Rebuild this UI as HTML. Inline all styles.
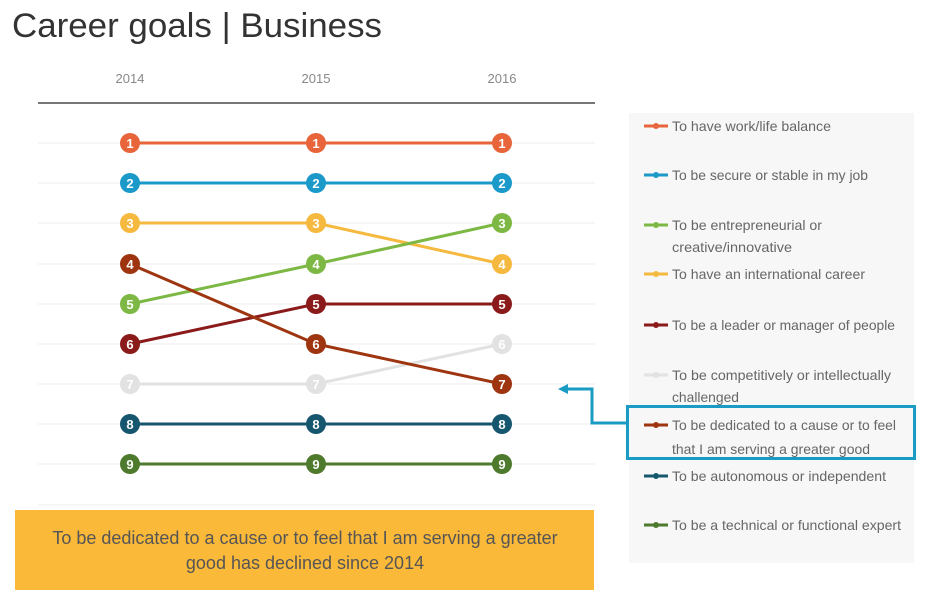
<!DOCTYPE html>
<html><head><meta charset="utf-8"><style>
body{margin:0;background:#fff;width:930px;height:602px;overflow:hidden;font-family:"Liberation Sans",sans-serif}
</style></head><body>
<svg width="930" height="602" xmlns="http://www.w3.org/2000/svg" font-family="Liberation Sans, sans-serif">
<text x="12" y="37" font-size="34" fill="#333" textLength="370" lengthAdjust="spacingAndGlyphs">Career goals | Business</text>
<g font-size="13" fill="#888" text-anchor="middle">
<text x="130" y="83">2014</text><text x="316" y="83">2015</text><text x="502" y="83">2016</text>
</g>
<line x1="38" y1="103" x2="595" y2="103" stroke="#777" stroke-width="2"/>
<g stroke="#ececec" stroke-width="1">
<line x1="38" y1="143" x2="595" y2="143"/><line x1="38" y1="183" x2="595" y2="183"/>
<line x1="38" y1="223" x2="595" y2="223"/><line x1="38" y1="264" x2="595" y2="264"/>
<line x1="38" y1="304" x2="595" y2="304"/><line x1="38" y1="344" x2="595" y2="344"/>
<line x1="38" y1="384" x2="595" y2="384"/><line x1="38" y1="424" x2="595" y2="424"/>
<line x1="38" y1="464" x2="595" y2="464"/><line x1="38" y1="505" x2="595" y2="505"/>
</g>
<g stroke-width="3" fill="none">
<polyline points="130,143 316,143 502,143" stroke="#e8643a"/>
<polyline points="130,183 316,183 502,183" stroke="#1b9ac9"/>
<polyline points="130,384 316,384 502,344" stroke="#e2e2e2"/>
<polyline points="130,223 316,223 502,264" stroke="#f6b93f"/>
<polyline points="130,304 316,264 502,223" stroke="#7cb843"/>
<polyline points="130,344 316,304 502,304" stroke="#8b1a1a"/>
<polyline points="130,264 316,344 502,384" stroke="#9e3510"/>
<polyline points="130,424 316,424 502,424" stroke="#16566e"/>
<polyline points="130,464 316,464 502,464" stroke="#4e7a2e"/>
</g>
<g font-size="13" font-weight="bold" text-anchor="middle" fill="#fff">
<circle cx="130" cy="143" r="10" fill="#e8643a"/><text x="130" y="148">1</text>
<circle cx="316" cy="143" r="10" fill="#e8643a"/><text x="316" y="148">1</text>
<circle cx="502" cy="143" r="10" fill="#e8643a"/><text x="502" y="148">1</text>
<circle cx="130" cy="183" r="10" fill="#1b9ac9"/><text x="130" y="188">2</text>
<circle cx="316" cy="183" r="10" fill="#1b9ac9"/><text x="316" y="188">2</text>
<circle cx="502" cy="183" r="10" fill="#1b9ac9"/><text x="502" y="188">2</text>
<circle cx="130" cy="223" r="10" fill="#f6b93f"/><text x="130" y="228">3</text>
<circle cx="316" cy="223" r="10" fill="#f6b93f"/><text x="316" y="228">3</text>
<circle cx="502" cy="223" r="10" fill="#7cb843"/><text x="502" y="228">3</text>
<circle cx="130" cy="264" r="10" fill="#9e3510"/><text x="130" y="269">4</text>
<circle cx="316" cy="264" r="10" fill="#7cb843"/><text x="316" y="269">4</text>
<circle cx="502" cy="264" r="10" fill="#f6b93f"/><text x="502" y="269">4</text>
<circle cx="130" cy="304" r="10" fill="#7cb843"/><text x="130" y="309">5</text>
<circle cx="316" cy="304" r="10" fill="#8b1a1a"/><text x="316" y="309">5</text>
<circle cx="502" cy="304" r="10" fill="#8b1a1a"/><text x="502" y="309">5</text>
<circle cx="130" cy="344" r="10" fill="#8b1a1a"/><text x="130" y="349">6</text>
<circle cx="316" cy="344" r="10" fill="#9e3510"/><text x="316" y="349">6</text>
<circle cx="502" cy="344" r="10" fill="#e2e2e2"/><text x="502" y="349">6</text>
<circle cx="130" cy="384" r="10" fill="#e2e2e2"/><text x="130" y="389">7</text>
<circle cx="316" cy="384" r="10" fill="#e2e2e2"/><text x="316" y="389">7</text>
<circle cx="502" cy="384" r="10" fill="#9e3510"/><text x="502" y="389">7</text>
<circle cx="130" cy="424" r="10" fill="#16566e"/><text x="130" y="429">8</text>
<circle cx="316" cy="424" r="10" fill="#16566e"/><text x="316" y="429">8</text>
<circle cx="502" cy="424" r="10" fill="#16566e"/><text x="502" y="429">8</text>
<circle cx="130" cy="464" r="10" fill="#4e7a2e"/><text x="130" y="469">9</text>
<circle cx="316" cy="464" r="10" fill="#4e7a2e"/><text x="316" y="469">9</text>
<circle cx="502" cy="464" r="10" fill="#4e7a2e"/><text x="502" y="469">9</text>
</g>
<rect x="15" y="510" width="579" height="80" fill="#fbb93a"/>
<g font-size="18" fill="#555" text-anchor="middle">
<text x="305" y="544">To be dedicated to a cause or to feel that I am serving a greater</text>
<text x="305" y="569">good has declined since 2014</text>
</g>
<rect x="629" y="113" width="285" height="450" fill="#f7f7f7"/>
<g stroke-width="3">
<line x1="644" y1="126" x2="668" y2="126" stroke="#e8643a"/>
<line x1="644" y1="175" x2="668" y2="175" stroke="#1b9ac9"/>
<line x1="644" y1="225" x2="668" y2="225" stroke="#7cb843"/>
<line x1="644" y1="274" x2="668" y2="274" stroke="#f6b93f"/>
<line x1="644" y1="325" x2="668" y2="325" stroke="#8b1a1a"/>
<line x1="644" y1="375" x2="668" y2="375" stroke="#e2e2e2"/>
<line x1="644" y1="425" x2="668" y2="425" stroke="#9e3510"/>
<line x1="644" y1="476" x2="668" y2="476" stroke="#16566e"/>
<line x1="644" y1="525" x2="668" y2="525" stroke="#4e7a2e"/>
</g>
<g>
<circle cx="656" cy="126" r="3" fill="#e8643a"/><circle cx="656" cy="175" r="3" fill="#1b9ac9"/>
<circle cx="656" cy="225" r="3" fill="#7cb843"/><circle cx="656" cy="274" r="3" fill="#f6b93f"/>
<circle cx="656" cy="325" r="3" fill="#8b1a1a"/><circle cx="656" cy="375" r="3" fill="#e2e2e2"/>
<circle cx="656" cy="425" r="3" fill="#9e3510"/><circle cx="656" cy="476" r="3" fill="#16566e"/>
<circle cx="656" cy="525" r="3" fill="#4e7a2e"/>
</g>
<g font-size="14" fill="#666">
<text x="672" y="131" textLength="159" lengthAdjust="spacingAndGlyphs">To have work/life balance</text>
<text x="672" y="180" textLength="196" lengthAdjust="spacingAndGlyphs">To be secure or stable in my job</text>
<text x="672" y="230" textLength="150" lengthAdjust="spacingAndGlyphs">To be entrepreneurial or</text>
<text x="672" y="252" textLength="120" lengthAdjust="spacingAndGlyphs">creative/innovative</text>
<text x="672" y="279" textLength="193" lengthAdjust="spacingAndGlyphs">To have an international career</text>
<text x="672" y="330" textLength="223" lengthAdjust="spacingAndGlyphs">To be a leader or manager of people</text>
<text x="672" y="380" textLength="219" lengthAdjust="spacingAndGlyphs">To be competitively or intellectually</text>
<text x="672" y="402" textLength="67" lengthAdjust="spacingAndGlyphs">challenged</text>
<text x="672" y="430" textLength="224" lengthAdjust="spacingAndGlyphs">To be dedicated to a cause or to feel</text>
<text x="672" y="454" textLength="198" lengthAdjust="spacingAndGlyphs">that I am serving a greater good</text>
<text x="672" y="481" textLength="214" lengthAdjust="spacingAndGlyphs">To be autonomous or independent</text>
<text x="672" y="530" textLength="229" lengthAdjust="spacingAndGlyphs">To be a technical or functional expert</text>
</g>
<rect x="627.5" y="406.5" width="287" height="52" fill="none" stroke="#1a9bc4" stroke-width="3"/>
<polyline points="626,423 592,423 592,389 566,389" fill="none" stroke="#1a9bc4" stroke-width="3"/>
<polygon points="558,389 568,384 568,394" fill="#1a9bc4"/>
</svg>
</body></html>
